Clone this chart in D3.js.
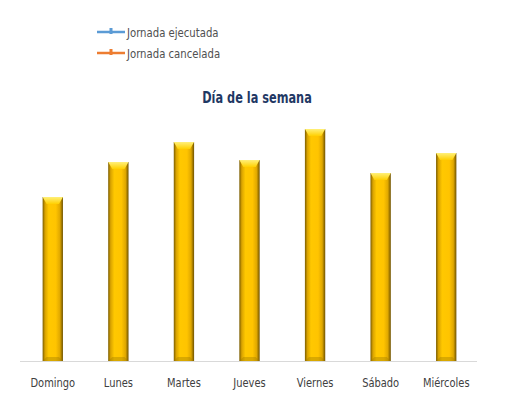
<!DOCTYPE html>
<html><head><meta charset="utf-8">
<script src="https://cdn.jsdelivr.net/npm/d3@7/dist/d3.min.js"></script>
<style>body{margin:0;background:#fff}svg{display:block}</style>
</head><body>
<script>
const categories = ["Domingo","Lunes","Martes","Jueves","Viernes","Sábado","Miércoles"];
const values = [164, 199, 219, 201, 232, 188, 208];
const legendLabels = ["Jornada ejecutada","Jornada cancelada"];
const legendColors = ["#5B9BD5","#ED7D31"];
const title = "Día de la semana";

const W = 512, H = 405;
const font = "'DejaVu Sans Condensed','Liberation Sans Narrow',sans-serif";
const svg = d3.select("body").append("svg").attr("width", W).attr("height", H);

const defs = svg.append("defs");
const g1 = defs.append("linearGradient").attr("id","barg").attr("x1","0").attr("x2","1").attr("y1","0").attr("y2","0");
[["0%","#7a5c00"],["12%","#d9a300"],["30%","#ffc800"],["65%","#ffc400"],["85%","#e0a800"],["100%","#6e5200"]]
  .forEach(([o,c]) => g1.append("stop").attr("offset",o).attr("stop-color",c));
const g2 = defs.append("linearGradient").attr("id","capg").attr("x1","0").attr("x2","0").attr("y1","0").attr("y2","1");
[["0%","#fff07a"],["100%","#ffd000"]].forEach(([o,c]) => g2.append("stop").attr("offset",o).attr("stop-color",c));

const x = d3.scaleBand().domain(categories).range([20, 479]).paddingInner(0.69).paddingOuter(0.345);
const y = d3.scaleLinear().domain([0, 250]).range([361, 111]);

// axis line
svg.append("line").attr("x1",20).attr("x2",477).attr("y1",y(0)+0.5).attr("y2",y(0)+0.5)
  .attr("stroke","#d9d9d9").attr("stroke-width",1);

const bars = svg.append("g").selectAll("g").data(categories).join("g");
bars.append("rect")
  .attr("x", d => x(d)).attr("width", x.bandwidth())
  .attr("y", (d,i) => y(values[i])).attr("height", (d,i) => y(0) - y(values[i]))
  .attr("fill","url(#barg)");
bars.append("path")
  .attr("d", (d,i) => {
    const x0 = x(d), w = x.bandwidth(), t = y(values[i]), c = 7;
    return `M${x0},${t}L${x0+w},${t}L${x0+w-4},${t+c}L${x0+4},${t+c}Z`;
  })
  .attr("fill","url(#capg)");
bars.append("path")
  .attr("d", (d,i) => {
    const x0 = x(d), w = x.bandwidth(), b = y(0), c = 4;
    return `M${x0},${b}L${x0+w},${b}L${x0+w-4},${b-c}L${x0+4},${b-c}Z`;
  })
  .attr("fill","#a07c00").attr("opacity",0.4);

// category labels
svg.append("g").selectAll("text").data(categories).join("text")
  .attr("transform", d => `translate(${x(d) + x.bandwidth()/2},387) scale(0.88,1)`)
  .attr("text-anchor","middle").attr("font-family",font).attr("font-size",12.5)
  .attr("fill","#404040").text(d => d);

// title
svg.append("text").attr("transform","translate(257,103) scale(0.84,1)").attr("text-anchor","middle")
  .attr("font-family",font).attr("font-size",15).attr("font-weight","bold")
  .attr("fill","#1F3864").text(title);

// legend
const leg = svg.append("g").selectAll("g").data(legendLabels).join("g")
  .attr("transform",(d,i) => `translate(97,${32 + i*21})`);
leg.append("line").attr("x1",0).attr("x2",28).attr("y1",0).attr("y2",0)
  .attr("stroke",(d,i) => legendColors[i]).attr("stroke-width",2.5);
leg.append("line").attr("x1",14).attr("x2",14).attr("y1",-4).attr("y2",2)
  .attr("stroke",(d,i) => legendColors[i]).attr("stroke-width",3);
leg.append("text").attr("transform","translate(30,4.5) scale(0.9,1)").attr("font-family",font).attr("font-size",12.5)
  .attr("fill","#505050").text(d => d);
</script>
</body></html>
